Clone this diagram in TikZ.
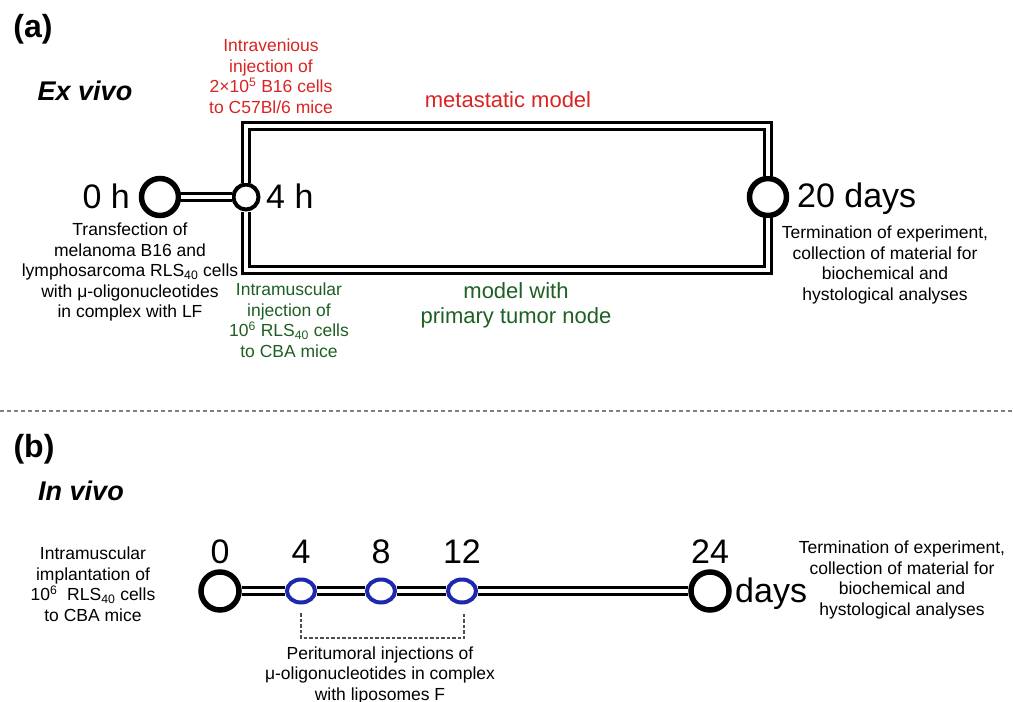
\documentclass[tikz,border=0pt]{standalone}
\usepackage{fontspec}
\setmainfont{Liberation Sans}
\usetikzlibrary{shapes.geometric}
\definecolor{redT}{RGB}{218,35,35}
\definecolor{greenT}{RGB}{30,95,35}
\definecolor{blueC}{RGB}{30,40,175}
\newcommand{\fs}[2]{\fontsize{#1}{#2}\selectfont}
\tikzset{
  dbl/.style={line width=3, double=white, double distance=3.5},
  bigring/.style={circle, draw, line width=5.5, minimum size=37, inner sep=0, fill=white},
  smallring/.style={circle, draw, line width=4, minimum size=25, inner sep=0, fill=white},
  bluering/.style={ellipse, draw=blueC, line width=4, minimum width=28, minimum height=23, inner sep=0, fill=white},
  txt/.style={inner sep=0, align=center, font=\fs{17.5}{20.5}},
  big/.style={inner sep=0, font=\fs{34}{38}},
  panel/.style={inner sep=0, font=\fs{32}{36}\bfseries},
  mode/.style={inner sep=0, font=\fs{27}{30}\bfseries\itshape},
  sep/.style={gray, line width=2.5, dash pattern=on 4 off 3},
  bracket/.style={black!70, line width=1.5, dash pattern=on 3.5 off 2},
}
\begin{document}
\begin{tikzpicture}[x=1pt, y=-1pt]
\useasboundingbox (0,0) rectangle (1013,702);

% ---------- (a) ex vivo ----------
\node[panel] (pa) at (33,29) {(a)};
\node[mode] (exv) at (85,91) {Ex vivo};

\node[bigring] (c0) at (160,197) {};
\node[smallring] (c4) at (246,197) {};
\node[bigring] (c20) at (768,197) {};

\coordinate (tl) at (246,126);
\coordinate (tr) at (768,126);
\coordinate (bl) at (246,270);
\coordinate (br) at (768,270);

\draw[dbl] (c0) -- (c4);
\draw[dbl] (c4.north) -- (tl) -- (tr) -- (c20.north);
\draw[dbl] (c4.south) -- (bl) -- (br) -- (c20.south);

\node[big, anchor=base east] (l0) at (130,208) {0 h};
\node[big, anchor=base west] (l4) at (266,208) {4 h};
\node[big, anchor=base west] (l20) at (797,207) {20 days};

\node[txt, text=redT] (iv) at (271,76) {Intravenious\\injection of\\2×10\textsuperscript{5} B16 cells\\to C57Bl/6 mice};
\node[inner sep=0, text=redT, font=\fs{22}{25}] (meta) at (508,100) {metastatic model};
\node[inner sep=0, text=greenT, font=\fs{22}{25}, align=center] (prim) at (516,305) {model with\\primary tumor node};

\node[txt] (trans) at (130,272) {Transfection of\\melanoma B16 and\\lymphosarcoma RLS\textsubscript{40} cells\\with μ-oligonucleotides\\in complex with LF};
\node[txt, text=greenT] (im) at (289,320) {Intramuscular\\injection of\\10\textsuperscript{6} RLS\textsubscript{40} cells\\to CBA mice};
\node[txt] (terma) at (885,265) {Termination of experiment,\\collection of material for\\biochemical and\\hystological analyses};

% ---------- separator ----------
\coordinate (sepL) at (0,411);
\coordinate (sepR) at (1013,411);
\draw[sep] (sepL) -- (sepR);

% ---------- (b) in vivo ----------
\node[panel] (pb) at (34,449) {(b)};
\node[mode] (inv) at (81,491) {In vivo};

\node[bigring, minimum size=38] (b0) at (220,591) {};
\node[bigring, minimum size=38] (b24) at (710,591) {};
\node[bluering] (b4) at (301,591) {};
\node[bluering] (b8) at (381,591) {};
\node[bluering] (b12) at (462,591) {};

\draw[dbl] (b0) -- (b4);
\draw[dbl] (b4) -- (b8);
\draw[dbl] (b8) -- (b12);
\draw[dbl] (b12) -- (b24);

\node[big, anchor=base] (n0) at (220,563) {0};
\node[big, anchor=base] (n4) at (301,563) {4};
\node[big, anchor=base] (n8) at (381,563) {8};
\node[big, anchor=base] (n12) at (462,563) {12};
\node[big, anchor=base] (n24) at (710,563) {24};
\node[big, anchor=base west] (days) at (735,602) {days};

\coordinate (bk1) at (301,613);
\coordinate (bk2) at (464,613);
\draw[bracket] (bk1) -- ++(0,25) -| (bk2);

\node[txt] (peri) at (380,675) {Peritumoral injections of\\μ-oligonucleotides in complex\\with liposomes F};
\node[txt] (impl) at (93,584) {Intramuscular\\implantation of\\10\textsuperscript{6}~ RLS\textsubscript{40} cells\\to CBA mice};
\node[txt] (termb) at (902,580) {Termination of experiment,\\collection of material for\\biochemical and\\hystological analyses};
\end{tikzpicture}
\end{document}
